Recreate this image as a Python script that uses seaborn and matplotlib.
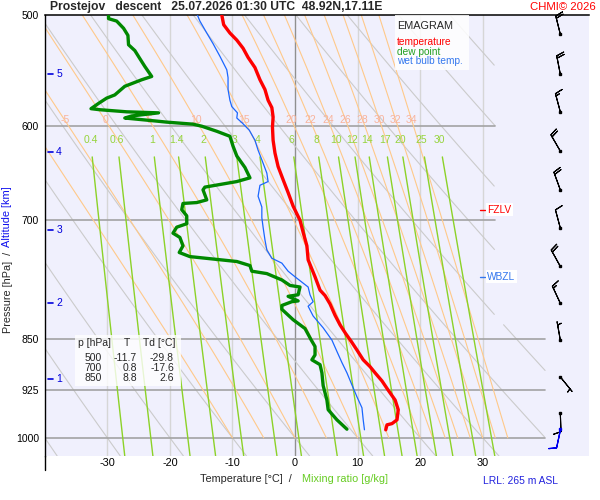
import numpy as np
import pandas as pd
import matplotlib
matplotlib.use('Agg')
import matplotlib.pyplot as plt
from matplotlib.patches import Rectangle
from matplotlib.ticker import NullLocator
import seaborn as sns

# ==============================================================
# Sounding  (pressure hPa / temperature °C)
# ==============================================================
p_temp = [500, 508, 515, 521, 528, 536, 545, 556, 565, 575, 582, 591, 601, 614,
          627, 641, 655, 669, 684, 700, 714, 730, 747, 768, 785, 792, 803, 818,
          831, 843, 854, 866, 880, 890, 899, 911, 925, 940, 955, 971, 977, 979, 987]
t_temp = [-11.7, -11.4, -10.4, -9.3, -8.3, -7.5, -6.4, -5.6, -4.8, -4.3, -3.7, -3.5,
          -3.6, -3.5, -3.2, -2.7, -1.9, -1.1, -0.3, 0.8, 1.3, 1.9, 2.1, 3.2, 4.0,
          4.8, 5.6, 6.4, 7.2, 8.1, 9.0, 9.9, 10.9, 12.0, 12.8, 13.9, 14.9, 16.0,
          16.5, 16.3, 15.5, 14.7, 14.5]

p_dew = [500, 503, 505, 511, 517, 525, 530, 537, 544, 553, 556, 562, 570, 573, 578,
         583, 584, 586, 587, 590, 592, 595, 596, 598, 600, 605, 610, 620, 630, 642,
         653, 657, 663, 666, 677, 680, 681, 688, 695, 704, 708, 715, 720, 730, 738,
         743, 749, 754, 761, 764, 772, 779, 781, 791, 793, 799, 800, 805, 810, 824,
         836, 852, 861, 873, 880, 887, 899, 918, 940, 955, 971, 986]
t_dew = [-29.8, -29.8, -28.5, -27.4, -26.7, -26.6, -25.6, -24.8, -24.0, -22.9, -24.5,
         -27.2, -28.8, -30.1, -31.4, -32.6, -31.2, -26.9, -21.8, -26.1, -27.2, -22.1,
         -20.5, -16.3, -14.9, -12.5, -10.4, -9.9, -9.3, -8.0, -7.2, -9.3, -14.4,
         -14.7, -14.1, -15.7, -17.9, -18.1, -17.3, -17.3, -18.9, -19.5, -18.4, -17.9,
         -18.5, -16.8, -9.3, -7.2, -6.9, -4.5, -2.1, -0.8, 0.8, 0.5, -1.1, 0.5, -0.5,
         -2.1, -2.1, -0.3, 1.6, 2.6, 3.2, 3.2, 2.7, 4.0, 4.3, 4.5, 5.1, 5.3, 6.7, 8.3]

p_wet = [500, 505, 515, 524, 535, 547, 554, 565, 575, 581, 587, 592, 597, 604, 614,
         624, 634, 648, 657, 661, 673, 685, 697, 708, 723, 735, 745, 751, 761, 768,
         781, 791, 800, 806, 819, 835, 852, 868, 884, 899, 917, 935, 952, 971, 987]
t_wet = [-15.6, -15.2, -14.1, -13.1, -12.0, -10.9, -10.7, -10.7, -10.4, -10.1, -9.2,
         -9.3, -8.4, -7.3, -6.4, -5.9, -5.3, -4.5, -4.3, -5.6, -5.9, -5.3, -5.3, -5.1,
         -4.8, -4.5, -3.7, -2.1, -1.1, 0.0, 2.1, 2.4, 2.9, 2.1, 2.9, 4.5, 5.9, 6.7,
         7.5, 8.3, 9.1, 9.9, 10.7, 10.9, 11.1]

# wind every 500 m (direction deg, speed kt)
wind_p = [516, 551, 586, 625, 666, 709, 755, 802, 852, 905, 960]
wind_dir = [346, 349, 345, 330, 340, 345, 331, 335, 350, 141, 178]
wind_kt = [20, 20, 15, 20, 20, 10, 20, 15, 5, 5, 10]
sfc_p = [986]
sfc_dir = [192]
sfc_kt = [10]

alt_km = [1, 2, 3, 4, 5]
alt_p = [908, 802, 711, 626, 551]

table_p = [500, 700, 850]
table_t = [-11.7, 0.8, 8.8]
table_td = [-29.8, -17.6, 2.6]

fzlv_p = 688
wbzl_p = 768

isobars = [600, 700, 850, 925, 1000]
isotherms = [-30, -20, -10, 0, 10, 20, 30]
p_ticks = [500, 600, 700, 850, 925, 1000]
dry_theta = list(range(-40, 131, 10))
moist_tw = [-10, -5, 0, 5, 10, 15, 20, 22, 24, 26, 28, 30, 32, 34]
moist_lbl = [-5, 0, 5, 10, 15, 20, 22, 24, 26, 28, 30, 32, 34]
mix_ratio = [0.4, 0.6, 1, 1.4, 2, 3, 4, 6, 8, 10, 12, 14, 17, 20, 25, 30]

P_BOT = 1030.3


# ---------- thermodynamic helper lines ----------
def dry_adiabat(theta_c, p):
    return (theta_c + 273.15) * (p / 1000.0) ** 0.2857 - 273.15


def moist_adiabat(tw_c):
    Rd, cp, Lv, eps = 287.04, 1005.7, 2.501e6, 0.622

    def rate(T, p):
        tc = T - 273.15
        es = 6.112 * np.exp(17.67 * tc / (tc + 243.5))
        rs = eps * es / (p - es)
        return (Rd * T + Lv * rs) / (p * (cp + Lv * Lv * rs * eps / (Rd * T * T)))

    ps = np.arange(1000.0, 499.0, -2.0)
    T = tw_c + 273.15
    out = [T]
    for i in range(1, len(ps)):
        dp = ps[i] - ps[i - 1]
        k1 = rate(T, ps[i - 1])
        k2 = rate(T + k1 * dp / 2, ps[i - 1] + dp / 2)
        T = T + k2 * dp
        out.append(T)
    return ps, np.array(out) - 273.15


def mixing_line(w, p):
    e = (w / 1000.0) * p / (0.622 + w / 1000.0)
    a = np.log(e / 6.112)
    return 243.5 * a / (17.67 - a)


# ==============================================================
# Figure
# ==============================================================
sns.set_theme(style='white')
plt.rcParams['font.family'] = ['Liberation Sans', 'DejaVu Sans']

fig = plt.figure(figsize=(6, 5), dpi=100)
ax = fig.add_axes([44.7 / 600, 1 - 456 / 500, 544.4 / 600, 441 / 500])
ax.set_facecolor('#f0f0fd')
ax.set_yscale('log')
ax.set_xlim(-40, 47)
ax.set_ylim(P_BOT, 500)

for s in ['right', 'bottom']:
    ax.spines[s].set_visible(False)
ax.spines['left'].set_color('black')
ax.spines['left'].set_linewidth(1.0)
ax.spines['top'].set_color('black')
ax.spines['top'].set_linewidth(1.1)
ax.plot([-40, -40], [P_BOT, 1054], color='black', lw=1.0, clip_on=False)

# isotherms / isobars
for t in isotherms:
    ax.axvline(t, color='#909090' if t == 0 else '#d6d6d6', lw=1, zorder=1)
for p in isobars:
    ax.plot([-40, 32 if p < 800 else 40], [p, p], color='#a3a3a3', lw=1.2, zorder=1.2)

# dry adiabats
pp = np.geomspace(500, P_BOT, 300)
tmax = np.where(pp < 830, 32, 40)
for th in dry_theta:
    tt = dry_adiabat(th, pp)
    tt = np.where(tt > tmax, np.nan, tt)
    ax.plot(tt, pp, color='#cbcbcb', lw=0.8, zorder=1.1)

# saturated adiabats
for tw in moist_tw:
    ps, ts = moist_adiabat(tw)
    ax.plot(ts, ps, color='#ffc98a', lw=0.8, zorder=1.3)
    if tw in moist_lbl:
        tl = np.interp(np.log(594), np.log(ps[::-1]), ts[::-1])
        ax.text(tl, 594, f'{tw}', color='#f8b39c', fontsize=7.5, ha='center', va='center', zorder=3)

# mixing ratio lines
pm = np.linspace(631, P_BOT, 60)
for w in mix_ratio:
    ax.plot(mixing_line(w, pm), pm, color='#8cd228', lw=1, zorder=1.4)
    ax.text(mixing_line(w, 614), 614, f'{w:g}', color='#96d43c', fontsize=7.5,
            ha='center', va='center', zorder=3)

# profiles
df_t = pd.DataFrame({'p': p_temp, 'T': t_temp})
df_d = pd.DataFrame({'p': p_dew, 'T': t_dew})
df_w = pd.DataFrame({'p': p_wet, 'T': t_wet})
sns.lineplot(data=df_w, x='T', y='p', sort=False, estimator=None, color='#1a66ff',
             lw=0.9, ax=ax, zorder=4)
sns.lineplot(data=df_d, x='T', y='p', sort=False, estimator=None, color='#008800',
             lw=2.4, ax=ax, zorder=5)
sns.lineplot(data=df_t, x='T', y='p', sort=False, estimator=None, color='#ff0000',
             lw=2.4, ax=ax, zorder=6)

# freezing / wet-bulb zero levels
for lev, name, col in [(fzlv_p, 'FZLV', '#ff0000'), (wbzl_p, 'WBZL', '#3377ee')]:
    ax.plot([29.6, 30.4], [lev, lev], color=col, lw=1, zorder=7)
    ax.text(30.75, lev, name, color=col, fontsize=7.3, va='center', ha='left', zorder=7,
            bbox=dict(facecolor='white', edgecolor='none', pad=1.2))

# altitude marks
for km, p in zip(alt_km, alt_p):
    ax.plot([-39.45, -38.6], [p, p], color='#0000dd', lw=1.2, zorder=7)
    ax.text(-37.7, p, str(km), color='#0000dd', fontsize=7.5, ha='center', va='center', zorder=7)

# wind barbs
wind_x = 42.4
rad = np.deg2rad(wind_dir)
u = -np.array(wind_kt) * np.sin(rad)
v = -np.array(wind_kt) * np.cos(rad)
ax.barbs(np.full(len(wind_p), wind_x), wind_p, u, v, length=5.2, linewidth=0.8,
         color='black', zorder=8, clip_on=False)
ax.plot(np.full(len(wind_p), wind_x), wind_p, 's', ms=2.0, color='black', zorder=9)
rad_s = np.deg2rad(sfc_dir)
ax.barbs([wind_x], sfc_p, -np.array(sfc_kt) * np.sin(rad_s), -np.array(sfc_kt) * np.cos(rad_s),
         length=5.2, linewidth=0.9, color='#0000ee', zorder=8, clip_on=False)
ax.plot([wind_x], sfc_p, 's', ms=2.0, color='#0000ee', zorder=9)

# ticks
ax.set_xticks(isotherms)
ax.set_xticklabels([f'{t}' for t in isotherms])
ax.set_yticks(p_ticks)
ax.set_yticklabels([str(p) for p in p_ticks])
ax.yaxis.set_minor_locator(NullLocator())
ax.tick_params(axis='x', length=0, pad=1.5, labelsize=7.8, colors='black')
ax.tick_params(axis='y', length=0, pad=4, labelsize=7.5, colors='black')
ax.set_xlabel('')
ax.set_ylabel('')


def fx(x):
    return x / 600


def fy(y):
    return 1 - y / 500


# header
fig.text(fx(50), fy(7), 'Prostejov   descent   25.07.2026 01:30 UTC  48.92N,17.11E',
         fontsize=8.7, fontweight='bold', va='center', ha='left')
fig.text(fx(596), fy(7), 'CHMI\u00a9 2026', color='#ff0000', fontsize=8.2, va='center', ha='right')

# legend box
ax.add_patch(Rectangle((fx(395), fy(70)), 74 / 600, 55 / 500, transform=fig.transFigure,
                       facecolor='white', edgecolor='none', alpha=0.85, zorder=10, clip_on=False))
ax.text(fx(397), fy(26), 'EMAGRAM', transform=fig.transFigure, fontsize=7.8, va='center', zorder=11)
for txt, col, yy in [('temperature', '#ff0000', 42.3), ('dew point', '#22a022', 51.7),
                     ('wet bulb temp.', '#3377ee', 61.3)]:
    ax.text(fx(397), fy(yy), txt, transform=fig.transFigure, color=col, fontsize=7.3,
            va='center', zorder=11)

# table box
ax.add_patch(Rectangle((fx(75), fy(386)), 106 / 600, 51 / 500, transform=fig.transFigure,
                       facecolor='white', edgecolor='none', alpha=0.8, zorder=10, clip_on=False))
ax.text(fx(78), fy(343.5), 'p [hPa]', transform=fig.transFigure, fontsize=7.5, va='center', zorder=11)
ax.text(fx(127), fy(343.5), 'T', transform=fig.transFigure, fontsize=7.5, va='center', ha='center', zorder=11)
ax.text(fx(143), fy(343.5), 'Td [°C]', transform=fig.transFigure, fontsize=7.5, va='center', zorder=11)
for i, (p, t, td) in enumerate(zip(table_p, table_t, table_td)):
    yy = fy(358.3 + 10 * i)
    ax.text(fx(102), yy, f'{p}', transform=fig.transFigure, fontsize=7.5, va='center', ha='right', zorder=11)
    ax.text(fx(137), yy, f'{t:.1f}', transform=fig.transFigure, fontsize=7.5, va='center', ha='right', zorder=11)
    ax.text(fx(174), yy, f'{td:.1f}', transform=fig.transFigure, fontsize=7.5, va='center', ha='right', zorder=11)

# axis titles
fig.text(fx(292), fy(479), 'Temperature [°C]  /', fontsize=7.8, va='center', ha='right')
fig.text(fx(302.5), fy(479), 'Mixing ratio [g/kg]', fontsize=7.8, va='center', ha='left', color='#66cc22')
fig.text(fx(8.3), fy(333), 'Pressure [hPa]  /', fontsize=7.8, rotation=90, ha='center', va='bottom')
fig.text(fx(7.5), fy(247), 'Altitude [km]', fontsize=7.9, rotation=90, ha='center', va='bottom', color='#1010ee')
fig.text(fx(483), fy(481), 'LRL: 265 m ASL', fontsize=7.4, va='center', ha='left', color='#2222dd')

fig.savefig('out.png', dpi=100, facecolor='white')
